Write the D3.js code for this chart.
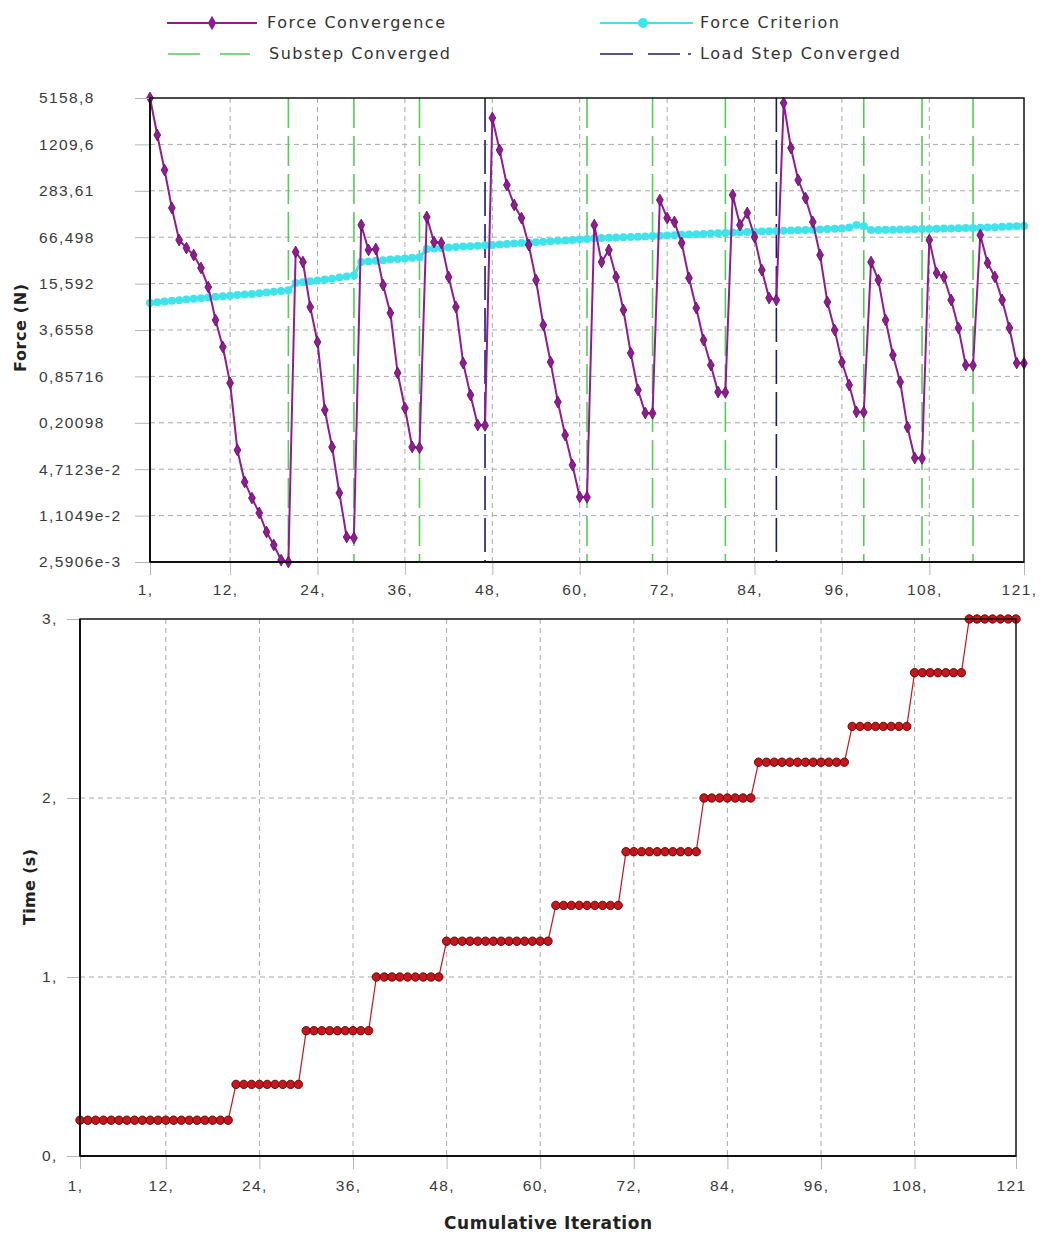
<!DOCTYPE html>
<meta charset="utf-8">
<style>
body { margin: 0; background: #fff; font-family: 'DejaVu Sans', sans-serif; }
.grid line { stroke: #a9a9a9; stroke-dasharray: 5,4; stroke-width: 1; }
.tick line { stroke: #b5b5b5; }
.tick text { fill: #3a3a3a; font-size: 15.5px; letter-spacing: 1.4px; }
.domain { display: none; }
</style>
<svg width="1045" height="1236"></svg>
<script src="https://d3js.org/d3.v7.min.js"></script>
<script>
// Force convergence (N), one value per cumulative iteration 1..121
var forceConv = [
  5158.8, 1620, 543, 166, 60.9, 47.4, 38.1, 25.4, 14.0, 4.99, 2.15, 0.697, 0.0859, 0.0316, 0.0191, 0.0120, 0.00662, 0.00441, 0.00275, 0.0025906,
  41.9, 30.6, 7.50, 2.51, 0.300, 0.0943, 0.0224, 0.00566, 0.0055,
  97.3, 44.6, 46.0, 14.9, 6.22, 0.953, 0.319, 0.0943, 0.092,
  125, 57.2, 55.5, 19.2, 7.50, 1.30, 0.479, 0.1875, 0.185,
  2761, 1015, 340, 182, 121, 52.1, 17.4, 4.27, 1.34, 0.385, 0.137, 0.0537, 0.0198, 0.0196,
  97.3, 30.6, 44.6, 19.2, 6.83, 1.78, 0.560, 0.273, 0.270,
  213, 121, 107, 55.5, 18.6, 7.27, 2.67, 1.22, 0.526, 0.520,
  249, 97.3, 142, 66.9, 23.8, 9.94, 9.34,
  4412, 1081, 397, 226, 107, 38.1, 8.77, 3.66, 1.34, 0.655, 0.282, 0.280,
  30.6, 17.4, 4.99, 1.67, 0.719, 0.176, 0.0669, 0.066,
  60.9, 21.7, 19.2, 9.34, 3.89, 1.22, 1.21,
  71.2, 29.7, 19.2, 9.34, 3.89, 1.30, 1.29
];

// Force criterion (N)
var forceCrit = [
  8.5, 8.7, 8.9, 9.1, 9.3, 9.5, 9.7, 9.9, 10.1, 10.3, 10.5, 10.7, 10.9, 11.1, 11.3, 11.5, 11.8, 12.1, 12.4, 12.7,
  15.9, 16.3, 16.8, 17.2, 17.7, 18.2, 18.8, 19.5, 20.3,
  30.6, 31.2, 31.8, 32.4, 33.0, 33.6, 34.2, 34.9, 35.6,
  46.0, 46.7, 47.4, 48.1, 48.8, 49.6, 50.3, 51.1, 51.9,
  52.2, 53.0, 53.8, 54.6, 55.4, 56.2, 57.0, 57.8, 58.6, 59.4, 60.2, 61.0, 61.9, 62.8,
  64.5, 65.0, 65.5, 66.0, 66.5, 67.0, 67.6, 68.2, 68.8,
  69.5, 70.2, 70.9, 71.6, 72.3, 73.0, 73.7, 74.4, 75.1, 75.8,
  77.0, 77.6, 78.2, 78.8, 79.4, 80.0, 80.7,
  81.3, 82.0, 82.7, 83.4, 84.1, 84.8, 85.6, 86.4, 87.4, 90.0, 97.0, 94.0,
  83.2, 83.5, 83.8, 84.1, 84.4, 84.8, 85.2, 85.6,
  86.0, 86.5, 87.0, 87.5, 88.0, 88.5, 89.0,
  89.5, 90.3, 91.1, 91.9, 92.7, 93.5, 94.4
];

// last iteration of each converged substep and its time (s)
var substepEnd  = [20, 29, 38, 47, 61, 70, 80, 87, 99, 107, 114, 121];
var substepTime = [0.2, 0.4, 0.7, 1.0, 1.2, 1.4, 1.7, 2.0, 2.2, 2.4, 2.7, 3.0];
var loadStepEnd = [47, 87];

var forceTicks = [5158.8, 1209.6, 283.61, 66.498, 15.592, 3.6558, 0.85716, 0.20098, 4.7123e-2, 1.1049e-2, 2.5906e-3];
var forceTickLabels = ["5158,8", "1209,6", "283,61", "66,498", "15,592", "3,6558", "0,85716", "0,20098", "4,7123e-2", "1,1049e-2", "2,5906e-3"];
var iterTicks = [1, 12, 24, 36, 48, 60, 72, 84, 96, 108, 121];
var iterLabelsTop = ["1,", "12,", "24,", "36,", "48,", "60,", "72,", "84,", "96,", "108,", "121,"];
var iterLabelsBottom = ["1,", "12,", "24,", "36,", "48,", "60,", "72,", "84,", "96,", "108,", "121"];
var timeTicks = [0, 1, 2, 3];
var timeTickLabels = ["0,", "1,", "2,", "3,"];

var svg = d3.select("svg");

var purple = "#901c92", purpleDark = "#5a0b5a", cyan = "#3fe3ea",
    green = "#55cc55", navy = "#1c1c6e", red = "#c4161c", redDark = "#5e0000";

// ---------- top chart ----------
var x1 = d3.scaleLinear().domain([1, 121]).range([150, 1024]);
var y1 = d3.scaleLog().domain([2.5906e-3, 5158.8]).range([562, 98]);

var gTop = svg.append("g");

gTop.append("g").attr("class", "grid")
  .selectAll("line").data(forceTicks.slice(1, -1)).enter().append("line")
    .attr("x1", 150).attr("x2", 1024)
    .attr("y1", function(d) { return y1(d); }).attr("y2", function(d) { return y1(d); });
gTop.append("g").attr("class", "grid")
  .selectAll("line").data(iterTicks.slice(1, -1)).enter().append("line")
    .attr("y1", 98).attr("y2", 562)
    .attr("x1", function(d) { return x1(d); }).attr("x2", function(d) { return x1(d); });

// substep / load step converged markers
gTop.append("g").selectAll("line")
  .data(substepEnd.filter(function(d) { return loadStepEnd.indexOf(d) < 0 && d < 121; }))
  .enter().append("line")
    .attr("x1", function(d) { return x1(d); }).attr("x2", function(d) { return x1(d); })
    .attr("y1", 98).attr("y2", 562)
    .attr("stroke", green).attr("stroke-width", 1.6).attr("stroke-dasharray", "30,8");
gTop.append("g").selectAll("line").data(loadStepEnd).enter().append("line")
    .attr("x1", function(d) { return x1(d); }).attr("x2", function(d) { return x1(d); })
    .attr("y1", 98).attr("y2", 562)
    .attr("stroke", navy).attr("stroke-width", 1.6).attr("stroke-dasharray", "34,8");

var lineF = d3.line().x(function(d, i) { return x1(i + 1); }).y(function(d) { return y1(d); });
gTop.append("path").datum(forceCrit)
  .attr("fill", "none").attr("stroke", cyan).attr("stroke-width", 3).attr("d", lineF);
gTop.append("g").selectAll("circle").data(forceCrit).enter().append("circle")
  .attr("cx", function(d, i) { return x1(i + 1); })
  .attr("cy", function(d) { return y1(d); })
  .attr("r", 4).attr("fill", cyan);

gTop.append("path").datum(forceConv)
  .attr("fill", "none").attr("stroke", purple).attr("stroke-width", 2).attr("d", lineF);
gTop.append("g").selectAll("path").data(forceConv).enter().append("path")
  .attr("transform", function(d, i) { return "translate(" + x1(i + 1) + "," + y1(d) + ")"; })
  .attr("d", d3.symbol().type(d3.symbolDiamond).size(40))
  .attr("fill", purple).attr("stroke", purpleDark).attr("stroke-width", 0.8);

// axes
gTop.append("g").attr("transform", "translate(150,0)")
  .call(d3.axisLeft(y1).tickValues(forceTicks).tickSize(15)
    .tickFormat(function(d, i) { return forceTickLabels[i]; }))
  .selectAll("text").attr("text-anchor", "start").attr("x", -111);
gTop.append("g").attr("transform", "translate(0,562)")
  .call(d3.axisBottom(x1).tickValues(iterTicks).tickSize(13)
    .tickFormat(function(d, i) { return iterLabelsTop[i]; }))
  .selectAll("text").attr("dx", -5).attr("y", 22);

gTop.append("rect").attr("x", 150).attr("y", 98).attr("width", 874).attr("height", 464)
  .attr("fill", "none").attr("stroke", "#111").attr("stroke-width", 1.5);
gTop.append("line").attr("x1", 150).attr("x2", 150).attr("y1", 98).attr("y2", 562)
  .attr("stroke", "#111").attr("stroke-width", 2);
gTop.append("line").attr("x1", 150).attr("x2", 1024).attr("y1", 562).attr("y2", 562)
  .attr("stroke", "#111").attr("stroke-width", 2);

gTop.append("text")
  .attr("transform", "translate(26,328) rotate(-90)")
  .attr("text-anchor", "middle").attr("textLength", 88)
  .attr("font-weight", "bold").attr("font-size", 16).attr("fill", "#222")
  .text("Force (N)");

// legend
var lg = svg.append("g").attr("font-size", 16).attr("fill", "#333");
lg.append("line").attr("x1", 167).attr("x2", 257).attr("y1", 23).attr("y2", 23)
  .attr("stroke", purple).attr("stroke-width", 2);
lg.append("path").attr("transform", "translate(212,23)")
  .attr("d", d3.symbol().type(d3.symbolDiamond).size(60)).attr("fill", purple);
lg.append("text").attr("x", 267).attr("y", 28).attr("textLength", 178).text("Force Convergence");
lg.append("line").attr("x1", 600).attr("x2", 693).attr("y1", 23).attr("y2", 23)
  .attr("stroke", cyan).attr("stroke-width", 2);
lg.append("circle").attr("cx", 643).attr("cy", 23).attr("r", 5).attr("fill", cyan);
lg.append("text").attr("x", 700).attr("y", 28).attr("textLength", 139).text("Force Criterion");
lg.append("line").attr("x1", 168).attr("x2", 250).attr("y1", 54).attr("y2", 54)
  .attr("stroke", green).attr("stroke-width", 1.6).attr("stroke-dasharray", "32,20");
lg.append("text").attr("x", 269).attr("y", 59).attr("textLength", 181).text("Substep Converged");
lg.append("line").attr("x1", 600).attr("x2", 691).attr("y1", 54).attr("y2", 54)
  .attr("stroke", navy).attr("stroke-width", 1.6).attr("stroke-dasharray", "33,15,32,8,3,50");
lg.append("text").attr("x", 700).attr("y", 59).attr("textLength", 200).text("Load Step Converged");

// ---------- bottom chart ----------
var x2 = d3.scaleLinear().domain([1, 121]).range([80, 1016]);
var y2 = d3.scaleLinear().domain([0, 3]).range([1156, 619]);

var timeData = d3.range(1, 122).map(function(it) {
  var k = 0;
  while (substepEnd[k] < it) k++;
  return {it: it, t: substepTime[k]};
});

var gBot = svg.append("g");
gBot.append("g").attr("class", "grid")
  .selectAll("line").data(timeTicks.slice(1, -1)).enter().append("line")
    .attr("x1", 80).attr("x2", 1016)
    .attr("y1", function(d) { return y2(d); }).attr("y2", function(d) { return y2(d); });
gBot.append("g").attr("class", "grid")
  .selectAll("line").data(iterTicks.slice(1, -1)).enter().append("line")
    .attr("y1", 619).attr("y2", 1156)
    .attr("x1", function(d) { return x2(d); }).attr("x2", function(d) { return x2(d); });

gBot.append("g").attr("transform", "translate(80,0)")
  .call(d3.axisLeft(y2).tickValues(timeTicks).tickSize(13)
    .tickFormat(function(d, i) { return timeTickLabels[i]; }))
  .selectAll("text").attr("text-anchor", "start").attr("x", -38);
gBot.append("g").attr("transform", "translate(0,1156)")
  .call(d3.axisBottom(x2).tickValues(iterTicks).tickSize(13)
    .tickFormat(function(d, i) { return iterLabelsBottom[i]; }))
  .selectAll("text").attr("dx", -5).attr("y", 24);

gBot.append("path").datum(timeData)
  .attr("fill", "none").attr("stroke", red).attr("stroke-width", 1.2)
  .attr("d", d3.line().x(function(d) { return x2(d.it); }).y(function(d) { return y2(d.t); }));
gBot.append("g").selectAll("circle").data(timeData).enter().append("circle")
  .attr("cx", function(d) { return x2(d.it); })
  .attr("cy", function(d) { return y2(d.t); })
  .attr("r", 4.2).attr("fill", red).attr("stroke", redDark).attr("stroke-width", 0.9);

gBot.append("rect").attr("x", 80).attr("y", 619).attr("width", 936).attr("height", 537)
  .attr("fill", "none").attr("stroke", "#111").attr("stroke-width", 1.5);
gBot.append("line").attr("x1", 80).attr("x2", 80).attr("y1", 619).attr("y2", 1156)
  .attr("stroke", "#111").attr("stroke-width", 2);
gBot.append("line").attr("x1", 80).attr("x2", 1016).attr("y1", 1156).attr("y2", 1156)
  .attr("stroke", "#111").attr("stroke-width", 2);

gBot.append("text")
  .attr("transform", "translate(35,887) rotate(-90)")
  .attr("text-anchor", "middle").attr("textLength", 76)
  .attr("font-weight", "bold").attr("font-size", 16).attr("fill", "#222")
  .text("Time (s)");
gBot.append("text")
  .attr("x", 548).attr("y", 1229)
  .attr("text-anchor", "middle").attr("textLength", 208)
  .attr("font-weight", "bold").attr("font-size", 17).attr("fill", "#222")
  .text("Cumulative Iteration");
</script>
